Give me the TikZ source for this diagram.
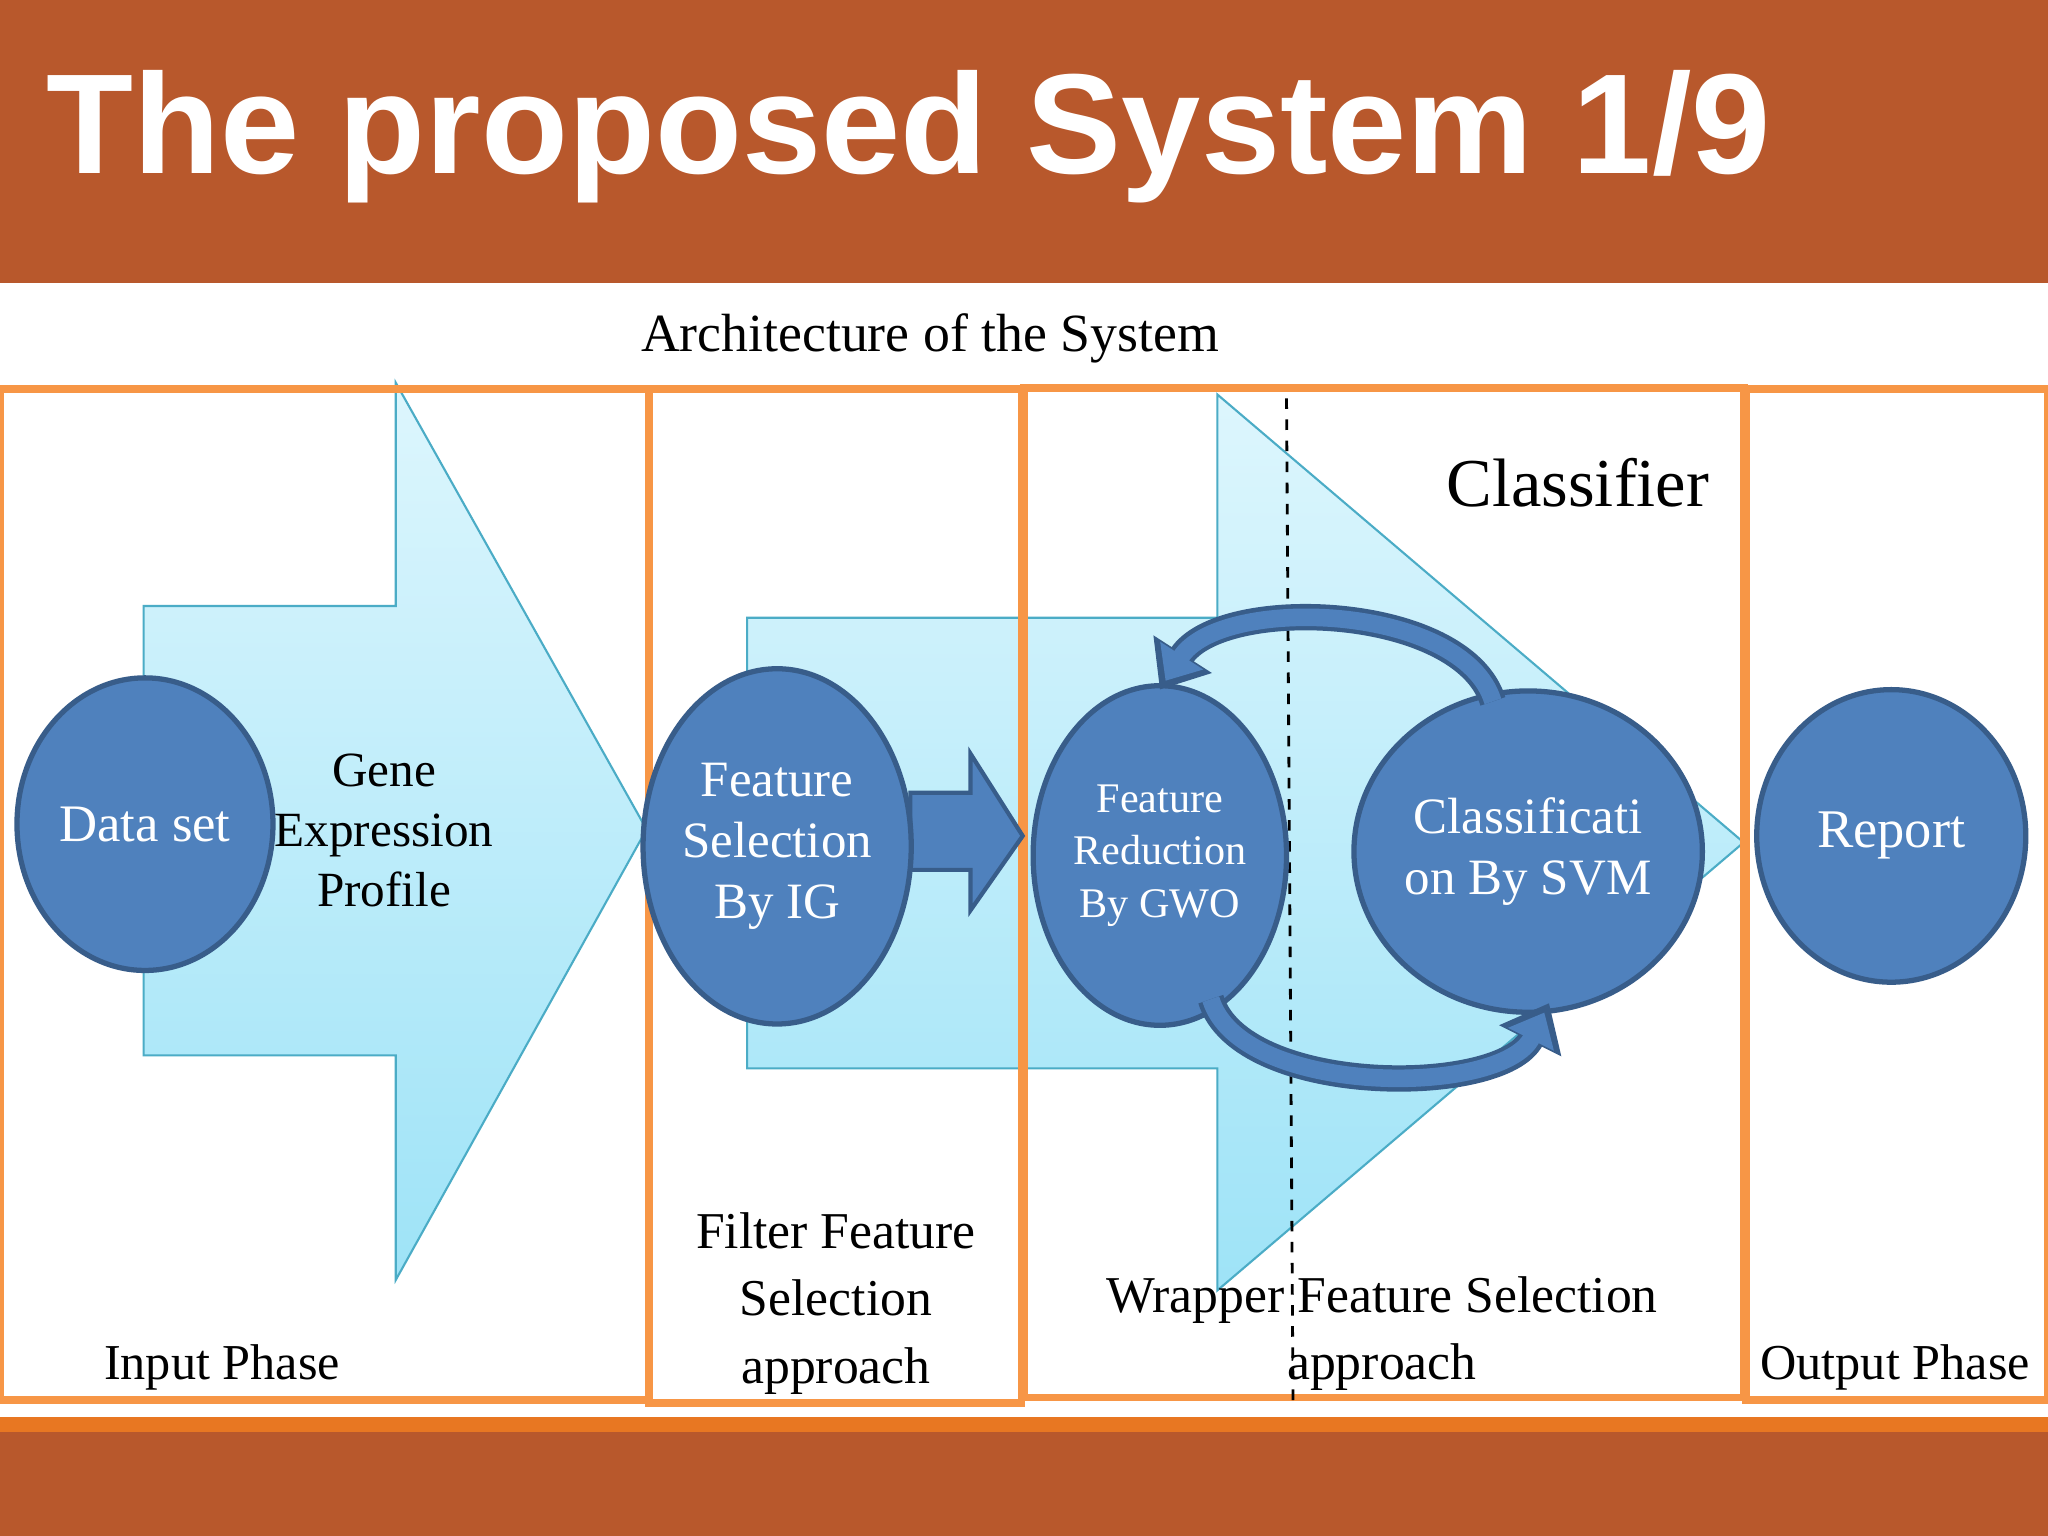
\documentclass[tikz,border=0pt]{standalone}
\usepackage{fontspec}
\setmainfont{Liberation Serif}
\newfontfamily\titlefont{Liberation Sans}
\usetikzlibrary{arrows.meta,shapes.geometric}
\definecolor{rust}{HTML}{B8582C}
\definecolor{orl}{HTML}{F79646}
\definecolor{orb}{HTML}{E87722}
\definecolor{bl}{HTML}{4F81BD}
\definecolor{bld}{HTML}{385D8A}
\definecolor{cyt}{HTML}{DDF6FD}
\definecolor{cyb}{HTML}{9EE3F7}
\definecolor{teal}{HTML}{4BACC6}
\tikzset{
 x=0.013061cm,y=-0.013061cm,
 bigarrow/.style={draw=teal,line width=0.6pt,top color=cyt,bottom color=cyb},
 phase/.style={draw=orl,line width=2.2pt},
 el/.style={draw=bld,line width=1.5pt,fill=bl,text=white,align=center,inner sep=0pt},
 sz/.style n args={2}{minimum width={#1*0.13061mm},minimum height={#2*0.13061mm}},
 lbl/.style={align=center,inner sep=0pt},
 loop/.style={line width=7.5pt,draw=bld,-{Triangle[length=12pt,width=19pt]}},
 loopin/.style={line width=5pt,draw=bl,-{Triangle[length=8.5pt,width=14pt]},shorten >=3pt},
}
\begin{document}
\begin{tikzpicture}
\useasboundingbox (0,0) rectangle (1568,1176);
\fill[white] (0,0) rectangle (1568,1176);
\fill[rust] (0,0) rectangle (1568,217);
\fill[orb] (0,1085) rectangle (1568,1096);
\fill[rust] (0,1096) rectangle (1568,1176);
\node[anchor=base west,text=white,inner sep=0pt,font=\titlefont\bfseries\fontsize{40.5}{44}\selectfont] (title) at (35,133) {The proposed System 1/9};
\node[lbl,font=\fontsize{15.3}{18}\selectfont] (arch) at (712,259) {Architecture of the System};
% big arrows
\path[bigarrow] (110,464) -- (303,464) -- (303,293) -- (495,635) -- (303,980) -- (303,808) -- (110,808) -- cycle;
\path[bigarrow] (572,473) -- (932,473) -- (932,302) -- (1335,645) -- (932,988) -- (932,818) -- (572,818) -- cycle;
% phase boxes
\draw[phase] (0,298) rectangle (497,1072);
\draw[phase] (497,298) rectangle (782,1074);
\draw[phase] (784,297) rectangle (1335,1070);
\draw[phase] (1337,298) rectangle (1568,1072);
\draw[dashed,line width=0.8pt] (985,305) -- (990,1076);
% small arrow
\path[draw=bld,fill=bl,line width=1.2pt] (697,607) -- (743,607) -- (743,577) -- (783,640) -- (743,697) -- (743,666) -- (697,666) -- cycle;
% ellipses
\node[el,ellipse,sz={196}{224},font=\fontsize{15}{18}\selectfont] (ds) at (111,631) {Data set};
\node[el,ellipse,sz={192}{272},font=\fontsize{14.5}{17.3}\selectfont] (fs) at (595,648) {Feature\\Selection\\By IG};
\node[el,ellipse,sz={194}{260},font=\fontsize{12}{15}\selectfont] (fr) at (888,655) {Feature\\Reduction\\By GWO};
\node[el,ellipse,sz={246}{246},font=\fontsize{14.5}{17.3}\selectfont] (cl) at (1170,652) {Classificati\\on By SVM};
\node[el,ellipse,sz={206}{224},font=\fontsize{15.5}{18}\selectfont] (rp) at (1448,640) {Report};
% loop arrows
\coordinate (t1) at (1143,537); \coordinate (t2) at (888,528);
\coordinate (b1) at (927,765); \coordinate (b2) at (1186,768);
\draw[loop] (t1) .. controls (1120,462) and (935,455) .. (t2);
\draw[loopin] (t1) .. controls (1120,462) and (935,455) .. (t2);
\draw[loop] (b1) .. controls (950,840) and (1150,840) .. (b2);
\draw[loopin] (b1) .. controls (950,840) and (1150,840) .. (b2);
% labels
\node[lbl,font=\fontsize{14}{17}\selectfont] (gep) at (294,636) {Gene\\Expression\\Profile};
\node[lbl,anchor=base,font=\fontsize{19.5}{23}\selectfont] (clf) at (1208,388) {Classifier};
\node[lbl,font=\fontsize{14.7}{19.2}\selectfont] (ffs) at (640,998) {Filter Feature\\Selection\\approach};
\node[lbl,font=\fontsize{14.7}{19.2}\selectfont] (wfs) at (1058,1021) {Wrapper Feature Selection\\approach};
\node[lbl,font=\fontsize{14.3}{18}\selectfont] (ip) at (170,1047) {Input Phase};
\node[lbl,font=\fontsize{14.3}{18}\selectfont] (op) at (1451,1047) {Output Phase};
\end{tikzpicture}
\end{document}
